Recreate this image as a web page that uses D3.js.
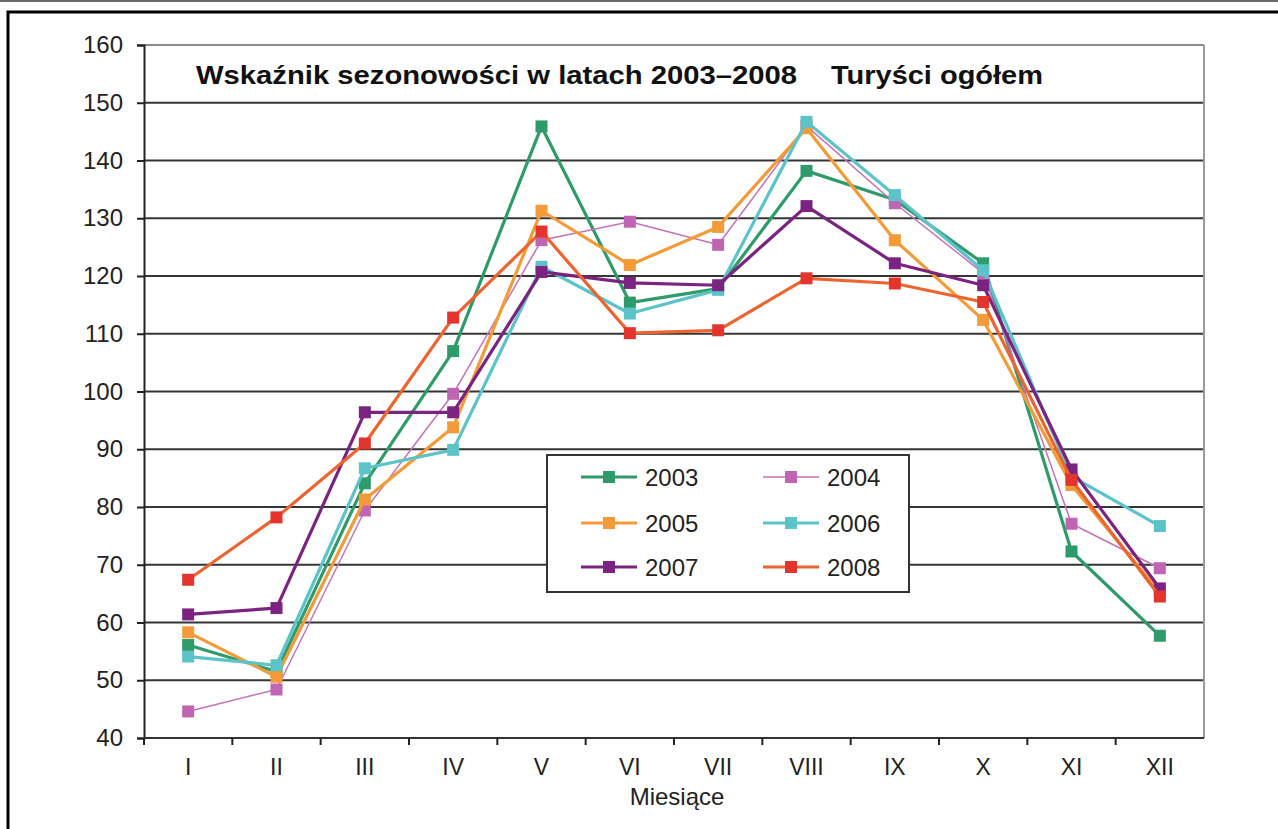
<!DOCTYPE html>
<html>
<head>
    <meta charset="utf-8">
    <script src="https://d3js.org/d3.v7.min.js"></script>
    <style>
        body {
            margin: 0;
            background: #fff;
            font-family: "Liberation Sans", Arial, sans-serif;
        }
    </style>
</head>
<body>
    <script>
        // months (roman numerals) and seasonal index per year
        const months = ["I", "II", "III", "IV", "V", "VI", "VII", "VIII", "IX", "X", "XI", "XII"];
        const years = ["2003", "2004", "2005", "2006", "2007", "2008"];
        const yTicks = [40, 50, 60, 70, 80, 90, 100, 110, 120, 130, 140, 150, 160];

        const v2003 = [56.1, 51.5, 84.1, 107.0, 145.9, 115.4, 117.8, 138.2, 133.2, 122.2, 72.3, 57.7];
        const v2004 = [44.6, 48.4, 79.4, 99.6, 126.2, 129.4, 125.4, 146.0, 132.6, 120.5, 77.1, 69.4];
        const v2005 = [58.3, 50.6, 81.3, 93.8, 131.3, 121.9, 128.5, 145.6, 126.2, 112.4, 83.8, 65.2];
        const v2006 = [54.1, 52.6, 86.7, 89.9, 121.6, 113.5, 117.6, 146.7, 134.0, 121.0, 85.3, 76.7];
        const v2007 = [61.4, 62.5, 96.4, 96.4, 120.7, 118.8, 118.4, 132.1, 122.2, 118.4, 86.5, 65.9];
        const v2008 = [67.4, 78.2, 91.0, 112.8, 127.7, 110.1, 110.6, 119.6, 118.7, 115.5, 84.7, 64.5];

        const lineColors = ["#2f9a6a", "#c472b8", "#f29b38", "#5cc4c8", "#7a2380", "#ec6530"];
        const markColors = ["#2f9a6a", "#c065b3", "#f29b38", "#5cc4c8", "#7a2380", "#e3352d"];
        const lineWidths = [3.2, 1.5, 3.2, 3.2, 3.2, 3.2];

        const series = years.map((yr, i) => ({
            year: yr,
            values: [v2003, v2004, v2005, v2006, v2007, v2008][i],
            line: lineColors[i],
            mark: markColors[i],
            width: lineWidths[i]
        }));

        const width = 1278, height = 829;
        const plotLeft = 144, plotRight = 1204, plotTop = 45, plotBottom = 738;

        const svg = d3.select("body").append("svg")
            .attr("width", width)
            .attr("height", height);

        // page frame
        svg.append("line")
            .attr("x1", 0).attr("x2", width)
            .attr("y1", 1).attr("y2", 1)
            .attr("stroke", "#6a6a6a").attr("stroke-width", 2);
        svg.append("rect")
            .attr("x", 8).attr("y", 12)
            .attr("width", 1400).attr("height", 900)
            .attr("fill", "none")
            .attr("stroke", "#000").attr("stroke-width", 3);

        const x = d3.scaleBand().domain(months).range([plotLeft, plotRight]);
        const y = d3.scaleLinear().domain([40, 160]).range([plotBottom, plotTop]);

        // gridlines
        svg.append("g")
            .selectAll("line")
            .data(yTicks.slice(1))
            .enter().append("line")
            .attr("x1", plotLeft).attr("x2", plotRight)
            .attr("y1", d => y(d)).attr("y2", d => y(d))
            .attr("stroke", d => d === 160 ? "#8a8a8a" : "#353535")
            .attr("stroke-width", 2);

        // right border of plot
        svg.append("line")
            .attr("x1", plotRight).attr("x2", plotRight)
            .attr("y1", plotTop).attr("y2", plotBottom)
            .attr("stroke", "#9a9a9a").attr("stroke-width", 2);

        // y axis
        const yAxis = svg.append("g")
            .attr("transform", `translate(${plotLeft},0)`)
            .call(d3.axisLeft(y).tickValues(yTicks).tickSize(7).tickPadding(14));
        yAxis.select(".domain").attr("stroke", "#222").attr("stroke-width", 2);
        yAxis.selectAll(".tick line").attr("stroke", "#222").attr("stroke-width", 2);
        yAxis.selectAll("text")
            .attr("font-size", 24)
            .attr("font-family", "Liberation Sans, Arial, sans-serif")
            .attr("fill", "#222");

        // x axis: ticks at band boundaries
        const xAxis = svg.append("g")
            .attr("transform", `translate(0,${plotBottom})`);
        xAxis.append("line")
            .attr("x1", plotLeft).attr("x2", plotRight)
            .attr("stroke", "#333").attr("stroke-width", 2);
        xAxis.selectAll(".tk")
            .data(months)
            .enter().append("line")
            .attr("class", "tk")
            .attr("x1", d => x(d)).attr("x2", d => x(d))
            .attr("y1", 0).attr("y2", 7)
            .attr("stroke", "#222").attr("stroke-width", 2);
        xAxis.selectAll(".lb")
            .data(months)
            .enter().append("text")
            .attr("class", "lb")
            .attr("x", d => x(d) + x.bandwidth() / 2)
            .attr("y", 37)
            .attr("text-anchor", "middle")
            .attr("font-size", 23)
            .attr("fill", "#222")
            .text(d => d);

        svg.append("text")
            .attr("x", 677).attr("y", 805)
            .attr("text-anchor", "middle")
            .attr("font-size", 24)
            .attr("fill", "#222")
            .text("Miesiące");

        // title
        svg.append("text")
            .attr("x", 196).attr("y", 84)
            .attr("font-size", 25).attr("font-weight", "bold")
            .attr("textLength", 601).attr("lengthAdjust", "spacingAndGlyphs")
            .attr("fill", "#111")
            .text("Wskaźnik sezonowości w latach 2003–2008");
        svg.append("text")
            .attr("x", 831).attr("y", 84)
            .attr("font-size", 25).attr("font-weight", "bold")
            .attr("textLength", 212).attr("lengthAdjust", "spacingAndGlyphs")
            .attr("fill", "#111")
            .text("Turyści ogółem");

        // series
        const line = d3.line()
            .x((d, i) => x(months[i]) + x.bandwidth() / 2)
            .y(d => y(d));

        const g = svg.append("g")
            .selectAll("g")
            .data(series)
            .enter().append("g");

        g.append("path")
            .attr("d", d => line(d.values))
            .attr("fill", "none")
            .attr("stroke", d => d.line)
            .attr("stroke-width", d => d.width)
            .attr("stroke-linejoin", "round");

        const ms = 12;
        g.selectAll("rect")
            .data(d => d.values.map((v, i) => ({ v, i, c: d.mark })))
            .enter().append("rect")
            .attr("x", d => x(months[d.i]) + x.bandwidth() / 2 - ms / 2)
            .attr("y", d => y(d.v) - ms / 2)
            .attr("width", ms).attr("height", ms)
            .attr("fill", d => d.c);

        // legend
        const lg = svg.append("g");
        lg.append("rect")
            .attr("x", 547).attr("y", 455)
            .attr("width", 362).attr("height", 137)
            .attr("fill", "#fff")
            .attr("stroke", "#333").attr("stroke-width", 2);

        const rowY = [477, 523, 567];
        const colX = [581, 763];
        series.forEach((s, i) => {
            const cx = colX[i % 2], cy = rowY[Math.floor(i / 2)];
            lg.append("line")
                .attr("x1", cx).attr("x2", cx + 56)
                .attr("y1", cy).attr("y2", cy)
                .attr("stroke", s.line).attr("stroke-width", s.width);
            lg.append("rect")
                .attr("x", cx + 28 - ms / 2).attr("y", cy - ms / 2)
                .attr("width", ms).attr("height", ms)
                .attr("fill", s.mark);
            lg.append("text")
                .attr("x", cx + 64).attr("y", cy + 9)
                .attr("font-size", 24)
                .attr("fill", "#222")
                .text(s.year);
        });
    </script>
</body>
</html>
